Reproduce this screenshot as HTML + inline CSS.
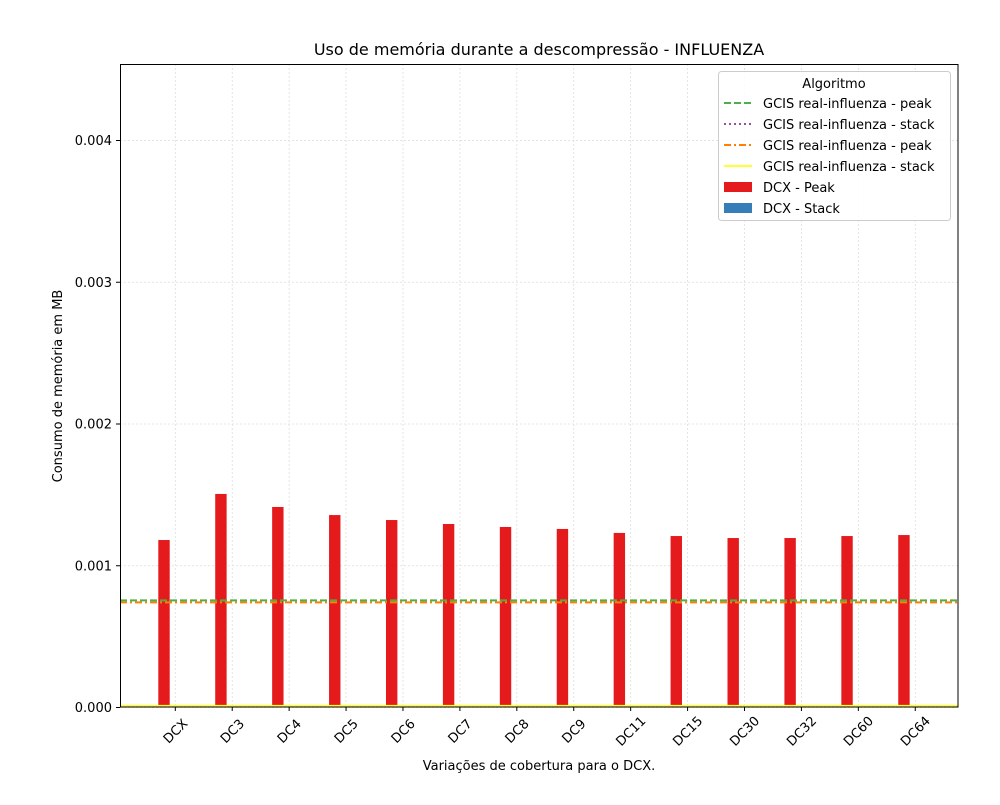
<!DOCTYPE html>
<html><head><meta charset="utf-8"><style>
body{margin:0;background:#fff;}
svg text{font-family:"DejaVu Sans","Liberation Sans",sans-serif;}
</style></head><body>
<svg id="chart" width="1000" height="800" xmlns="http://www.w3.org/2000/svg">
<rect width="1000" height="800" fill="#fff"/>
<text x="539" y="55" font-size="16" text-anchor="middle" fill="#000">Uso de memória durante a descompressão -  INFLUENZA</text>
<g id="grid"></g>
<g id="bars"></g>
<g id="lines"></g>
<rect x="120.5" y="64.5" width="837.5" height="642.5" fill="none" stroke="#000" stroke-width="1"/>
<g id="axes"></g>
<text x="539" y="770" font-size="13" text-anchor="middle">Variações de cobertura para o DCX.</text>
<text transform="translate(62,386) rotate(-90)" font-size="13" text-anchor="middle">Consumo de memória em MB</text>
<g>
<rect x="718.5" y="71.5" width="232" height="149" rx="3" fill="#fff" fill-opacity="0.85" stroke="#ccc"/>
<text x="834" y="88" font-size="13" text-anchor="middle">Algoritmo</text>
<g><line x1="724" y1="103" x2="752" y2="103" stroke="#4daf4a" stroke-width="2" stroke-dasharray="7,3"/><text x="763" y="108" font-size="13">GCIS real-influenza - peak</text></g>
<g><line x1="724" y1="124" x2="752" y2="124" stroke="#984ea3" stroke-width="2" stroke-dasharray="2,3"/><text x="763" y="129" font-size="13">GCIS real-influenza - stack</text></g>
<g><line x1="724" y1="145" x2="752" y2="145" stroke="#ff7f00" stroke-width="2" stroke-dasharray="7,3,2,3"/><text x="763" y="150" font-size="13">GCIS real-influenza - peak</text></g>
<g><line x1="724" y1="166" x2="752" y2="166" stroke="#ffff33" stroke-width="2"/><text x="763" y="171" font-size="13">GCIS real-influenza - stack</text></g>
<g><rect x="724" y="182" width="28" height="10" fill="#e41a1c"/><text x="763" y="192" font-size="13">DCX - Peak</text></g>
<g><rect x="724" y="203" width="28" height="10" fill="#377eb8"/><text x="763" y="213" font-size="13">DCX - Stack</text></g>
</g>
</svg>
<script>
const categories=["DCX","DC3","DC4","DC5","DC6","DC7","DC8","DC9","DC11","DC15","DC30","DC32","DC60","DC64"];
const peakValues=[0.001178,0.001503,0.001411,0.001354,0.001319,0.001291,0.00127,0.001256,0.001228,0.001206,0.001192,0.001192,0.001206,0.001213];
const stackValues=[0,0,0,0,0,0,0,0,0,0,0,0,0,0];
const gcisPeak=0.000752;
const gcisStack=0.000005;
const gcisPeak2=0.000738;
const gcisStack2=0.000008;
const yTicks=[0,0.001,0.002,0.003,0.004];
const yTickLabels=["0.000","0.001","0.002","0.003","0.004"];

const NS="http://www.w3.org/2000/svg";
function xs(i){return 175.3+56.92*i;}
function ys(v){return 707-v*141750;}
function mk(tag,attrs,parent){const e=document.createElementNS(NS,tag);for(const k in attrs)e.setAttribute(k,attrs[k]);document.getElementById(parent).appendChild(e);return e;}

yTicks.forEach((t,i)=>{
  const g=mk('line',{x1:120,x2:958,y1:ys(t)+0.5,y2:ys(t)+0.5,stroke:'#ddd','stroke-dasharray':'2,2','stroke-width':0.8},'grid');
  
  
  const tk=mk('line',{x1:116,x2:120,y1:ys(t)+0.5,y2:ys(t)+0.5,stroke:'#000'},'axes');
  
  
  const tx=mk('text',{x:112,y:ys(t)+5,'font-size':13,'text-anchor':'end'},'axes');
  tx.textContent=yTickLabels[i];
  
  
});
categories.forEach((c,i)=>{
  const x=xs(i);
  const g=mk('line',{x1:x,x2:x,y1:64,y2:707,stroke:'#ddd','stroke-dasharray':'2,2','stroke-width':0.8},'grid');
  
  
  const b=mk('rect',{x:x-17,y:ys(peakValues[i]),width:11.4,height:707-ys(peakValues[i]),fill:'#e41a1c'},'bars');
  
  
  const s=mk('rect',{x:x-5.6,y:ys(stackValues[i]),width:11.4,height:707-ys(stackValues[i]),fill:'#377eb8'},'bars');
  
  
  const tk=mk('line',{x1:x,x2:x,y1:707,y2:711,stroke:'#000'},'axes');
  
  
  const cy=731;
  const tx=mk('text',{x:x,y:cy+4.5,'font-size':13,'text-anchor':'middle',transform:`rotate(-45 ${x} ${cy})`},'axes');
  tx.textContent=c;
  
  
});
const l1=mk('line',{x1:120,x2:958,y1:ys(gcisStack),y2:ys(gcisStack),stroke:'#984ea3','stroke-width':2,'stroke-dasharray':'2,3'},'lines');


const l2=mk('line',{x1:120,x2:958,y1:ys(gcisStack2),y2:ys(gcisStack2),stroke:'#ffff33','stroke-width':2},'lines');


const l3=mk('line',{x1:120,x2:958,y1:ys(gcisPeak2),y2:ys(gcisPeak2),stroke:'#ff7f00','stroke-width':2,'stroke-dasharray':'7,3,2,3'},'lines');


const l4=mk('line',{x1:120,x2:958,y1:ys(gcisPeak),y2:ys(gcisPeak),stroke:'#4daf4a','stroke-width':2,'stroke-dasharray':'7,3'},'lines');


</script>
</body></html>
